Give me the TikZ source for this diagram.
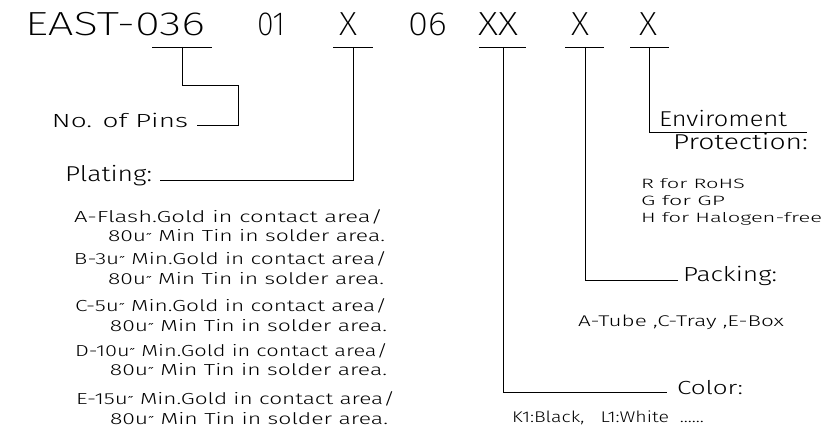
\documentclass[tikz,border=0pt]{standalone}
\usepackage{fontspec}
\setmainfont{Fira Sans}[UprightFont=* Light]
\newfontfamily\thinfont{Fira Sans}[UprightFont=* ExtraLight]
\newfontfamily\dvfont{DejaVu Sans}
\newcommand{\dblpr}{{\dvfont\fontsize{11}{11}\selectfont ″}}
\usepackage{graphicx}
\usetikzlibrary{calc}
\newcommand{\tw}[3]{{\fontsize{#2}{#2}\selectfont\resizebox{#1pt}{\height}{#3}}}
\tikzset{
  lbl/.style={inner sep=0pt, outer sep=0pt, anchor=base west},
  ln/.style={line width=0.8pt, black}
}
\begin{document}
\begin{tikzpicture}[x=1pt,y=-1pt]
\useasboundingbox (0,0) rectangle (831,430);
% title
\node[lbl] (t1) at (25,36) {\thinfont\tw{180}{33.4}{EAST-036}};
\node[lbl] (t2) at (257,36) {\thinfont\tw{28}{33.4}{01}};
\node[lbl] (t3) at (339,36) {\thinfont\tw{18}{33.4}{X}};
\node[lbl] (t4) at (408,36) {\thinfont\tw{39}{33.4}{06}};
\node[lbl] (t5) at (478,36) {\thinfont\tw{40}{33.4}{XX}};
\node[lbl] (t6) at (571,36) {\thinfont\tw{18}{33.4}{X}};
\node[lbl] (t7) at (639,36) {\thinfont\tw{18}{33.4}{X}};
% underlines
\coordinate (u1a) at (152,47); \coordinate (u1b) at (212,47); \coordinate (u1) at (182,47);
\coordinate (u3a) at (333,47); \coordinate (u3b) at (373,47); \coordinate (u3) at (353,47);
\coordinate (u5a) at (479,47); \coordinate (u5b) at (526,47); \coordinate (u5) at (503,47);
\coordinate (u6a) at (565,47); \coordinate (u6b) at (604,47); \coordinate (u6) at (585,47);
\coordinate (u7a) at (630,47); \coordinate (u7b) at (669,47); \coordinate (u7) at (649,47);
\foreach \a/\b in {u1a/u1b,u3a/u3b,u5a/u5b,u6a/u6b,u7a/u7b} \draw[ln] (\a) -- (\b);
% labels
\node[lbl] (pins) at (52,128) {\tw{136}{19}{No. of Pins}};
\node[lbl] (plating) at (65,182) {\tw{87}{21.5}{Plating:}};
\node[lbl] (a1) at (74,223) {\tw{309}{16}{A-Flash.Gold in contact area/}};
\node[lbl] (a2) at (108,242) {\tw{277}{16}{80u\dblpr\ Min Tin in solder area.}};
\node[lbl] (b1) at (74,265) {\tw{313}{16}{B-3u\dblpr\ Min.Gold in contact area/}};
\node[lbl] (b2) at (108,285) {\tw{276}{16}{80u\dblpr\ Min Tin in solder area.}};
\node[lbl] (c1) at (75,312) {\tw{312}{16}{C-5u\dblpr\ Min.Gold in contact area/}};
\node[lbl] (c2) at (110,332) {\tw{277}{16}{80u\dblpr\ Min Tin in solder area.}};
\node[lbl] (d1) at (75,357) {\tw{313}{16}{D-10u\dblpr\ Min.Gold in contact area/}};
\node[lbl] (d2) at (110,376) {\tw{277}{16}{80u\dblpr\ Min Tin in solder area.}};
\node[lbl] (e1) at (76,405) {\tw{319}{16}{E-15u\dblpr\ Min.Gold in contact area/}};
\node[lbl] (e2) at (110,425) {\tw{278}{16}{80u\dblpr\ Min Tin in solder area.}};
\node[lbl] (env) at (659,127) {\tw{128}{21.5}{Enviroment}};
\node[lbl] (prot) at (673,150) {\tw{135}{21.5}{Protection:}};
\node[lbl] (r) at (641,189) {\tw{104}{13.5}{R for RoHS}};
\node[lbl] (g) at (641,206) {\tw{84}{13.5}{G for GP}};
\node[lbl] (h) at (641,223) {\tw{181}{13.5}{H for Halogen-free}};
\node[lbl] (pack) at (683,282) {\tw{94}{20.3}{Packing:}};
\node[lbl] (tube) at (578,327) {\tw{206}{15.5}{A-Tube ,C-Tray ,E-Box}};
\node[lbl] (color) at (677,395) {\tw{66}{19}{Color:}};
\node[lbl] (k1) at (512,423) {\tw{192}{15.5}{K1:Black,\ \ \ L1:White \ ......}};
% connectors
\coordinate (j1) at (238,85);
\coordinate (envend) at (807,132);
\draw[ln] (u1) |- (j1) |- ($(pins.base east)+(9,-3)$);
\draw[ln] (u3) |- ($(plating.base east)+(8,-2)$);
\draw[ln] (u7) |- (envend);
\draw[ln] (u6) |- ($(pack.base west)+(-5,-2)$);
\draw[ln] (u5) |- ($(color.base west)+(-10,-3)$);
\end{tikzpicture}
\end{document}
